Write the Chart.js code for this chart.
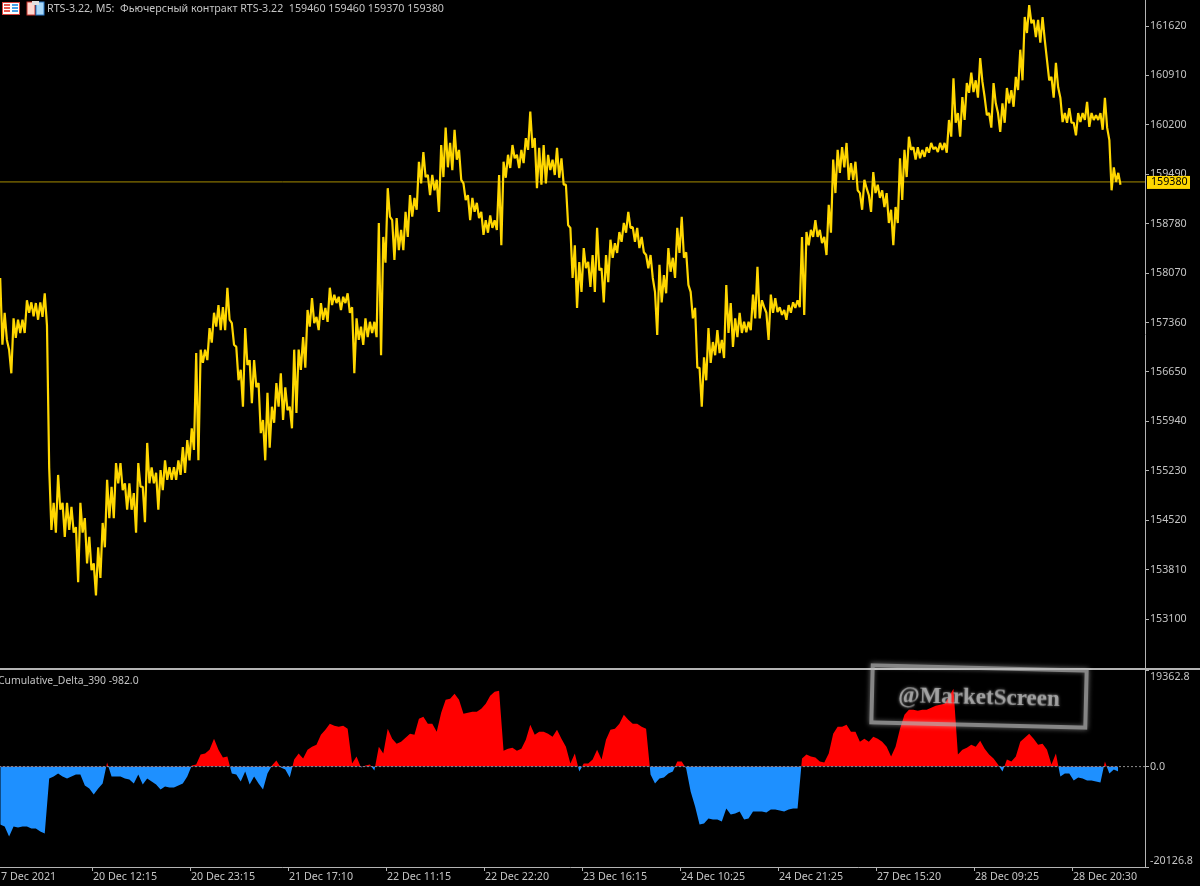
<!DOCTYPE html>
<html>
<head>
<meta charset="utf-8">
<title>RTS-3.22 M5</title>
<script src="https://cdn.jsdelivr.net/npm/chart.js@4/dist/chart.umd.min.js"></script>
<style>
html, body { margin: 0; padding: 0; background: #000; width: 1200px; height: 886px; overflow: hidden; }
canvas { position: absolute; left: -5px; }
#priceChart { top: 0; }
#deltaChart { top: 668px; }
.label { position: absolute; color: #c4c4c4; font: 10.7px "Noto Sans", sans-serif; white-space: pre; }
#title { left: 47px; top: 0; line-height: 16px; }
#deltaTitle { left: -2px; top: 672px; line-height: 16px; font-size: 10.4px; }
#icons { position: absolute; left: 2px; top: 1px; }
#separator { position: absolute; left: 0; top: 668px; width: 1200px; height: 2px; background: #b4b4b4; }
#stamp {
    position: absolute; left: 870px; top: 666px; width: 210px; height: 53px;
    border: 4px solid rgba(185, 185, 185, .72);
    box-shadow: 0 0 5px rgba(255, 255, 255, .45), inset 0 0 4px rgba(255, 255, 255, .35);
    transform: rotate(1.4deg);
    color: rgba(170, 170, 170, .9); font: bold 23px "Liberation Serif", serif;
    text-align: center; line-height: 53px; text-shadow: 0 0 3px rgba(255, 255, 255, .5);
}
</style>
</head>
<body>
<canvas id="priceChart" width="1205" height="668"></canvas>
<canvas id="deltaChart" width="1205" height="218"></canvas>
<div id="separator"></div>
<svg id="icons" width="44" height="15">
    <rect x="0.5" y="1.5" width="17" height="12" fill="#fff" stroke="#d8413a"/>
    <rect x="2" y="3" width="6" height="2" fill="#e8584f"/><rect x="10" y="3" width="6" height="2" fill="#4aa3e8"/>
    <rect x="2" y="6" width="6" height="2" fill="#e8584f"/><rect x="10" y="6" width="6" height="2" fill="#4aa3e8"/>
    <rect x="2" y="9" width="6" height="2" fill="#e8584f"/><rect x="10" y="9" width="6" height="2" fill="#4aa3e8"/>
    <rect x="25" y="1" width="8" height="13" fill="#ffd8d0" stroke="#c8322a"/>
    <rect x="34" y="1" width="8" height="13" fill="#a8d8f8" stroke="#2a78c8"/>
    <rect x="30" y="0" width="7" height="4" fill="#e0e0e0"/>
</svg>
<div class="label" id="title">RTS-3.22, M5:  Фьючерсный контракт RTS-3.22  159460 159460 159370 159380</div>
<div class="label" id="deltaTitle">Cumulative_Delta_390 -982.0</div>
<div id="stamp">@MarketScreen</div>

<script>
// every sample covers 6 M5 bars, highs and lows
const firstBar = 7;
const barsPerSample = 6;
const barsPerTick = 132;
const lastBar = 1549;

const priceHigh = [158000,157500,156970,157420,157400,157400,157680,157650,157640,157650,157780,
155270,154770,155170,154770,154770,154710,154420,154770,154550,154280,153900,154130,154480,155100,155000,155340,155340,155050,155050,154910,155340,155000,155630,155280,155200,155240,155380,155280,155280,155380,155570,155670,155840,
156920,156970,156970,157280,157500,157610,157580,157860,157350,157010,156680,157280,156820,156820,156490,155960,156350,156150,156490,156630,156430,156150,156970,156970,157150,157540,157710,157440,157640,157570,157860,157760,157730,157730,157780,157580,157420,157300,157420,157370,157370,
158790,158590,159290,158830,158860,158690,158950,159190,159150,159670,159810,159480,159480,159410,159910,160160,159940,160130,159840,159360,159190,159150,159080,158950,158830,158900,158830,159480,
159670,159770,159910,159770,159840,160010,160390,160010,159870,159910,159770,159700,159870,159720,159340,158720,158470,158230,158430,158230,158330,158720,158140,158330,158550,158500,158660,158790,158950,158730,158720,158590,158330,158330,157800,158190,158040,158430,158290,158720,158880,158370,157800,157570,156710,
156860,157280,157080,157250,157110,157900,157640,157420,157500,157370,157370,157760,158160,157680,157500,157760,157710,157580,157540,157610,157650,157680,
158590,158660,158690,158830,158690,158590,159050,159700,159840,159880,159940,159650,159670,159220,159410,159190,159520,159340,159260,159220,158980,159020,159720,159840,160030,159880,159880,159840,159880,159940,159880,159940,159940,
160270,160870,160370,160600,160800,160950,160840,161160,160600,160370,160800,160370,160510,160730,160700,160890,161280,161750,161920,161710,161710,161750,161130,160890,161090,160590,160370,160440,160230,160370,160370,160530,160370,160340,160370,160590,159980,159590,159510];

const priceLow = [157040,157110,156630,157140,157210,157210,157500,157450,157400,157440,157320,
154380,154340,154670,154280,154380,154340,153630,154340,153900,153800,153440,153690,154130,154550,154550,155050,154950,154670,154670,154340,155000,154490,155050,155050,154670,154950,155100,155100,155100,155170,155200,155380,155530,
155380,156780,156820,157070,157300,157250,157250,157400,157040,156530,156150,156750,156200,156430,155770,155380,155560,155920,156150,155960,156100,155840,156060,156680,156710,157300,157350,157250,157400,157370,157610,157640,157540,157640,157500,156630,157110,157040,157150,157210,157150,
156890,158220,158880,158260,158400,158400,158590,158880,158980,159360,159450,159190,159260,158950,159450,159590,159550,159700,159410,159120,158830,158950,158860,158620,158650,158720,158690,158470,
159440,159580,159720,159580,159650,159840,159870,159290,159340,159360,159550,159480,159440,159340,158760,158000,157570,157800,158140,157870,157800,158110,157650,157940,158290,158360,158520,158650,158720,158520,158430,158370,158140,158000,157180,157650,157780,158090,158000,158360,158290,157900,157420,156710,156150,
156530,156780,156890,156920,156850,157210,157010,157150,157210,157220,157250,157420,157420,157580,157110,157500,157510,157470,157400,157500,157570,157580,
157470,158470,158590,158590,158500,158330,158650,159220,159510,159590,159410,159410,159260,158980,159290,158950,159220,159150,159020,158790,158470,158790,159120,159450,159840,159700,159720,159740,159800,159850,159810,159840,159800,
160030,160230,160030,160270,160660,160670,160590,160820,160340,160160,160510,160100,160230,160510,160460,160700,160840,161520,161660,161460,161380,161420,160840,160590,160740,160240,160230,160230,160050,160240,160270,160170,160270,160270,160130,160160,159260,159380,159340];

const deltaValues = [-11600,-12000,-14000,-12000,-12200,-12000,-12000,-12400,-12400,-13000,-13400,
-2400,-2000,-1400,-2000,-2400,-2000,-1600,-1600,-3800,-4400,-5600,-4400,-3400,800,-2000,-2000,-2000,-2400,-2600,-3400,-1600,-3600,-2400,-3000,-3600,-4600,-4000,-4200,-4200,-3800,-3400,-2000,200,
400,2400,2600,3400,5600,3400,1800,2000,-1400,-1600,-3000,-1000,-3600,-2000,-3400,-4600,-1400,200,1200,-200,-600,-2200,1400,2600,
1600,3400,4000,4400,6400,7400,8600,8200,8000,8200,7600,600,2000,-200,200,400,-800,4000,2600,7600,5600,4600,5000,5800,6600,6400,9600,10000,8600,8600,7000,10800,13400,13600,14600,13400,10600,10800,11000,11000,11600,12600,14200,15000,15200,
3200,3600,3800,3200,3600,5400,8400,6400,7000,7000,6600,6000,7400,5600,4000,600,2600,-1000,600,600,1400,3400,1400,5400,7400,7600,8600,10400,9400,8600,8600,8000,7600,
-1600,-3400,-2400,-2200,-1400,-1000,1000,1000,-400,-5000,-8000,-11600,-11400,-10400,-10600,-10600,-11000,-8400,-9600,-9400,-9000,-10600,-10400,-9000,-9000,-9000,-9200,-8600,-8600,-8800,-9000,-8600,-8400,-8400,
1600,2400,2000,1800,1000,800,2600,6600,8000,8000,8400,7000,7000,5000,5600,5000,6000,5600,5000,4000,2000,4000,7600,10400,11400,11400,11200,11400,11400,11800,12200,12400,12600,14000,15600,
2400,3400,3800,4400,4000,5200,3600,2400,1600,400,-1000,1400,1000,2000,5000,5800,6600,5600,4400,4600,3400,400,2600,-2000,-1400,-1400,-2800,-2200,-2400,-2800,-2800,-3000,-3200,1000,-1400,-600,-982];

const priceTicks = [153100,153810,154520,155230,155940,156650,157360,158070,158780,159490,160200,160910,161620];
const deltaTicks = [-20126.8,0,19362.8];
const timeLabels = ['17 Dec 2021','20 Dec 12:15','20 Dec 23:15','21 Dec 17:10','22 Dec 11:15','22 Dec 22:20','23 Dec 16:15','24 Dec 10:25','24 Dec 21:25','27 Dec 15:20','28 Dec 09:25','28 Dec 20:30'];
const lastPrice = 159380;
const priceMin = 152396;
const priceMax = 161994;

const textColor = '#c4c4c4';
const axisColor = '#b4b4b4';
const tickFont = { family: '"Noto Sans", sans-serif', size: 10.7 };

Chart.defaults.animation = false;
Chart.defaults.responsive = false;
Chart.defaults.devicePixelRatio = 1;

// high then low for each sample, so the line zigzags like the M5 bars
const pricePath = [];
priceHigh.forEach((high, i) => {
    const bar = firstBar + i * barsPerSample;
    pricePath.push({ x: bar, y: high });
    pricePath.push({ x: bar + barsPerSample / 2, y: priceLow[i] });
});

const deltaPath = deltaValues.map((value, i) => ({ x: firstBar + i * barsPerSample, y: value }));

// keep the plot edges on the canvas edges, tick labels may overhang
function noOverhang(scale) {
    scale.paddingTop = 0;
    scale.paddingBottom = 0;
    scale.paddingLeft = 0;
    scale.paddingRight = 0;
}

// small yellow tag with the current price on the axis
const priceTag = {
    id: 'priceTag',
    afterDraw(chart) {
        const ctx = chart.ctx;
        const y = chart.scales.y.getPixelForValue(lastPrice);
        ctx.save();
        ctx.fillStyle = '#ffd700';
        ctx.fillRect(chart.chartArea.right + 2, y - 6, 43, 13);
        ctx.fillStyle = '#000';
        ctx.font = '10.7px "Noto Sans", sans-serif';
        ctx.textBaseline = 'middle';
        ctx.fillText(String(lastPrice), chart.chartArea.right + 6, y + 0.5);
        ctx.restore();
    }
};

// the delta axis keeps its outer labels inside the panel
const deltaLabels = {
    id: 'deltaLabels',
    afterDraw(chart) {
        const ctx = chart.ctx;
        const scale = chart.scales.y;
        const shifts = [-6, 0, 7];
        ctx.save();
        ctx.fillStyle = textColor;
        ctx.font = '10.7px "Noto Sans", sans-serif';
        ctx.textBaseline = 'middle';
        deltaTicks.forEach((value, i) => {
            ctx.fillText(value.toFixed(1), chart.chartArea.right + 5, scale.getPixelForValue(value) + shifts[i]);
        });
        ctx.restore();
    }
};

new Chart(document.getElementById('priceChart'), {
    type: 'line',
    plugins: [priceTag],
    data: {
        datasets: [
            {
                data: pricePath,
                borderColor: '#ffd700',
                borderWidth: 2.2,
                borderJoinStyle: 'bevel',
                pointRadius: 0,
                tension: 0,
                order: 1
            },
            {
                data: [{ x: 0, y: lastPrice }, { x: lastBar, y: lastPrice }],
                borderColor: '#a68c00',
                borderWidth: 1,
                pointRadius: 0,
                order: 2
            }
        ]
    },
    options: {
        layout: { padding: 0 },
        plugins: { legend: { display: false }, tooltip: { enabled: false } },
        scales: {
            x: { type: 'linear', min: 0, max: lastBar, display: false },
            y: {
                position: 'right',
                min: priceMin,
                max: priceMax,
                afterBuildTicks: scale => { scale.ticks = priceTicks.map(value => ({ value })); },
                afterFit: scale => { scale.width = 55; noOverhang(scale); },
                border: { color: axisColor, width: 1 },
                grid: { drawOnChartArea: false, drawTicks: true, tickLength: 4, color: axisColor },
                ticks: { color: textColor, font: tickFont, padding: 1, callback: value => String(value) }
            }
        }
    }
});

new Chart(document.getElementById('deltaChart'), {
    type: 'line',
    plugins: [deltaLabels],
    data: {
        datasets: [
            {
                data: deltaPath,
                borderWidth: 0,
                pointRadius: 0,
                tension: 0,
                fill: { target: 'origin', above: '#ff0000', below: '#1e90ff' },
                order: 2
            },
            {
                data: [{ x: 0, y: 0 }, { x: lastBar, y: 0 }],
                borderColor: '#8c8c8c',
                borderWidth: 1,
                borderDash: [2, 2],
                pointRadius: 0,
                order: 1
            }
        ]
    },
    options: {
        layout: { padding: { top: 2 } },
        plugins: { legend: { display: false }, tooltip: { enabled: false } },
        scales: {
            x: {
                type: 'linear',
                min: 0,
                max: lastBar,
                afterBuildTicks: scale => { scale.ticks = timeLabels.map((label, i) => ({ value: i * barsPerTick })); },
                afterFit: scale => { scale.height = 19; noOverhang(scale); },
                border: { color: axisColor, width: 1 },
                grid: { drawOnChartArea: false, drawTicks: true, tickLength: 4, color: axisColor },
                ticks: {
                    color: textColor,
                    font: tickFont,
                    padding: 0,
                    align: 'start',
                    maxRotation: 0,
                    autoSkip: false,
                    callback: value => timeLabels[value / barsPerTick]
                }
            },
            y: {
                position: 'right',
                min: deltaTicks[0],
                max: deltaTicks[2],
                afterBuildTicks: scale => { scale.ticks = deltaTicks.map(value => ({ value })); },
                afterFit: scale => { scale.width = 55; noOverhang(scale); },
                border: { color: axisColor, width: 1 },
                grid: { drawOnChartArea: false, drawTicks: true, tickLength: 4, color: axisColor },
                ticks: { display: false }
            }
        }
    }
});
</script>
</body>
</html>
